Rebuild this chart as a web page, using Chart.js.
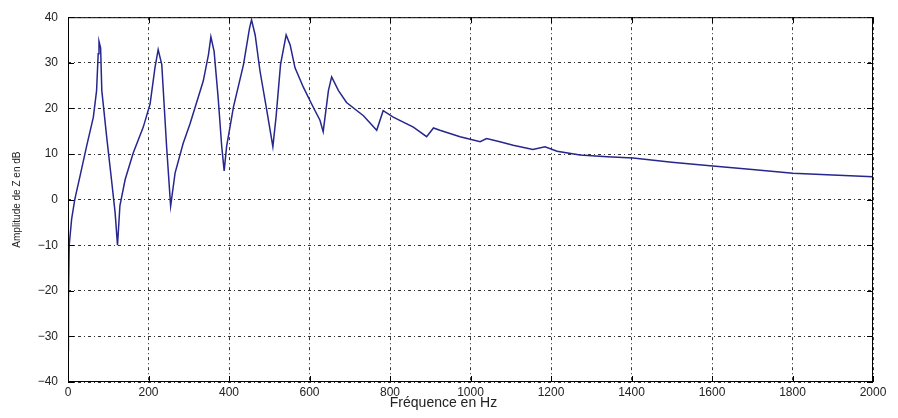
<!DOCTYPE html>
<html>
<head>
<meta charset="utf-8">
<script src="https://cdn.jsdelivr.net/npm/chart.js"></script>
<style>
  html, body { margin: 0; padding: 0; background: #fff; }
  #wrap { width: 898px; height: 418px; }
</style>
</head>
<body>
<div id="wrap"><canvas id="c"></canvas></div>
<script>
// frequency (Hz) and amplitude of Z (dB)
const freqHz = [0, 1, 3, 9, 17, 30, 46, 63, 71, 75, 77, 81, 84, 96, 108, 117, 123,
  129, 142, 162, 187, 204, 216, 224, 233, 245, 255,
  266, 286, 303, 336, 349, 355, 363, 373, 382, 388,
  394, 411, 436, 451, 456, 465, 477, 494, 509,
  517, 528, 542, 552, 564, 585, 609, 626, 634,
  647, 655, 672, 692, 734, 767, 783, 808, 858, 891, 908, 924, 974, 1024, 1040, 1073,
  1106, 1155, 1185, 1215, 1272, 1340, 1404, 1500, 1595, 1700, 1801, 1900, 2000];
const ampDb = [-33, -22, -10, -4.3, 0.1, 5.2, 11.6, 18.1, 23.9, 32, 34.7, 33.3, 23.9, 13.8, 4.4, -2.8, -10,
  -1.3, 4.4, 10.2, 15.9, 21, 28.9, 32.9, 29.6, 11.6, -1.4,
  5.8, 12.3, 16.6, 26, 31.8, 35.7, 32.5, 22.4, 11.6, 6.3,
  11.6, 20.3, 29.6, 37.6, 39.4, 36.1, 28.2, 19.5, 11.6,
  18.2, 29.6, 36.1, 33.9, 28.9, 24.6, 20.3, 17.4, 14.9,
  23.9, 26.9, 23.9, 21.3, 18.4, 15.2, 19.5, 18.1, 15.9, 13.8, 15.7, 15.2, 13.8, 12.7, 13.4, 12.7,
  11.9, 11.0, 11.6, 10.6, 9.8, 9.4, 9.1, 8.2, 7.4, 6.6, 5.8, 5.4, 5.0];
const xTicks = [0, 200, 400, 600, 800, 1000, 1200, 1400, 1600, 1800, 2000];
const yTicks = [-40, -30, -20, -10, 0, 10, 20, 30, 40];
const xLabel = 'Fréquence en Hz';
const yLabel = 'Amplitude de Z en dB';

const points = freqHz.map((f, i) => ({ x: f, y: ampDb[i] }));

// box around the axes plus small inward tick marks, matlab style
const boxPlugin = {
  id: 'box',
  afterDatasetsDraw(chart) {
    const ctx = chart.ctx, a = chart.chartArea;
    const xs = chart.scales.x, ys = chart.scales.y;
    ctx.save();
    ctx.strokeStyle = '#000';
    ctx.lineWidth = 1;
    ctx.strokeRect(a.left + 0.5, a.top + 0.5, a.right - a.left - 1, a.bottom - a.top - 1);
    ctx.beginPath();
    xTicks.forEach(v => {
      const px = Math.round(xs.getPixelForValue(v)) + 0.5;
      ctx.moveTo(px, a.bottom); ctx.lineTo(px, a.bottom - 6);
      ctx.moveTo(px, a.top); ctx.lineTo(px, a.top + 6);
    });
    yTicks.forEach(v => {
      const py = Math.round(ys.getPixelForValue(v)) + 0.5;
      ctx.moveTo(a.left, py); ctx.lineTo(a.left + 6, py);
      ctx.moveTo(a.right, py); ctx.lineTo(a.right - 6, py);
    });
    ctx.stroke();
    // x label sits a bit left of centre in the original
    ctx.fillStyle = '#222';
    ctx.font = '14px "Liberation Sans", Arial, sans-serif';
    ctx.textAlign = 'center';
    ctx.textBaseline = 'middle';
    ctx.fillText(xLabel, (a.left + a.right) / 2 - 27, chart.height - 15);
    ctx.restore();
  }
};

const tickFont = { family: 'Liberation Sans, Arial, sans-serif', size: 12 };
const gridOpts = { color: '#333', drawTicks: false, lineWidth: 1 };
const borderOpts = { display: false, dash: [3, 3, 1, 3] };

new Chart(document.getElementById('c'), {
  type: 'line',
  data: {
    datasets: [{
      data: points,
      borderColor: '#26268f',
      borderWidth: 1.5,
      pointRadius: 0,
      tension: 0,
      fill: false
    }]
  },
  options: {
    responsive: true,
    maintainAspectRatio: false,
    animation: false,
    layout: { padding: { top: 12, right: 25, left: 0, bottom: 0 } },
    plugins: { legend: { display: false }, tooltip: { enabled: false } },
    scales: {
      x: {
        type: 'linear',
        min: 0, max: 2000,
        afterBuildTicks: s => { s.ticks = xTicks.map(v => ({ value: v })); },
        afterFit: s => { s.height = 36; },
        ticks: { font: tickFont, color: '#222', padding: 3, maxRotation: 0, autoSkip: false,
          callback: v => String(v) },
        grid: gridOpts,
        border: borderOpts
      },
      y: {
        min: -40, max: 40,
        afterBuildTicks: s => { s.ticks = yTicks.map(v => ({ value: v })); },
        afterFit: s => { s.width = 68; },
        ticks: {
          font: tickFont, color: '#222', padding: 10, autoSkip: false,
          callback: v => String(v).replace('-', '\u2212')
        },
        grid: gridOpts,
        border: borderOpts,
        title: { display: true, text: yLabel, font: { family: 'Liberation Sans Narrow, Liberation Sans, Arial, sans-serif', size: 10 }, color: '#222', padding: { top: 11, bottom: 0 } }
      }
    }
  },
  plugins: [boxPlugin]
});
</script>
</body>
</html>
